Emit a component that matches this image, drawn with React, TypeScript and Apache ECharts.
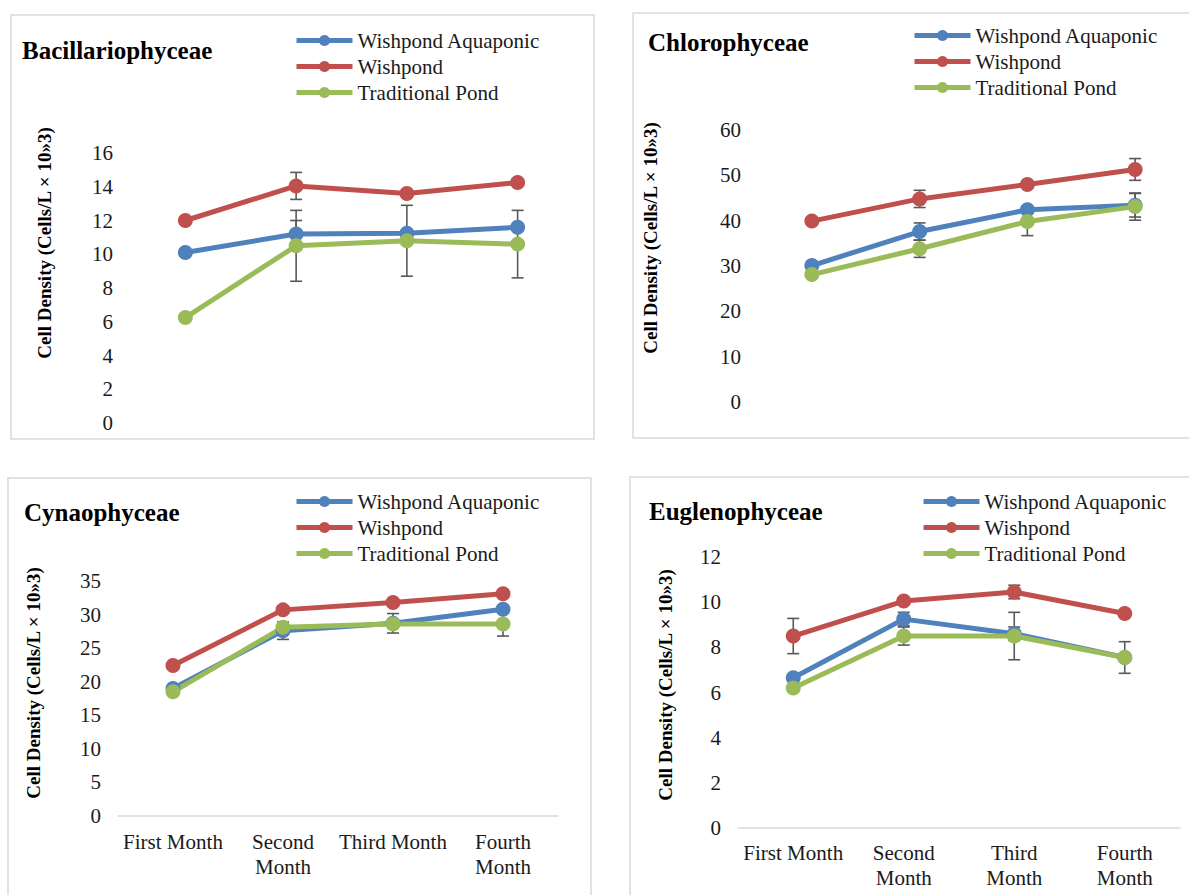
import React, { useEffect, useRef } from "react";
import * as echarts from "echarts";

// ---------- DATA ----------
const categories = ["First Month", "Second Month", "Third Month", "Fourth Month"];
const seriesNames = ["Wishpond Aquaponic", "Wishpond", "Traditional Pond"];
const axisLabelsCyna = ["First Month", "Second\nMonth", "Third Month", "Fourth\nMonth"];
const axisLabelsEugl = ["First Month", "Second\nMonth", "Third\nMonth", "Fourth\nMonth"];

// Bacillariophyceae
const bacAquaponic = [10.1, 11.2, 11.25, 11.6];
const bacWishpond = [12.0, 14.05, 13.6, 14.25];
const bacTraditional = [6.25, 10.5, 10.8, 10.6];
const bacAquaponicErr = [0, 0.8, 0, 0];
const bacWishpondErr = [0, 0.8, 0, 0];
const bacTraditionalErr = [0, 2.1, 2.1, 2.0];

// Chlorophyceae
const chlAquaponic = [30.1, 37.6, 42.4, 43.4];
const chlWishpond = [39.9, 44.8, 48.0, 51.3];
const chlTraditional = [28.1, 33.8, 39.8, 43.1];
const chlAquaponicErr = [0, 1.9, 0, 2.6];
const chlWishpondErr = [0, 1.9, 0, 2.4];
const chlTraditionalErr = [0, 1.9, 3.1, 3.0];

// Cynaophyceae
const cynAquaponic = [19.0, 27.6, 28.7, 30.8];
const cynWishpond = [22.4, 30.7, 31.8, 33.1];
const cynTraditional = [18.5, 28.1, 28.6, 28.6];
const cynAquaponicErr = [0, 1.3, 1.45, 0];
const cynWishpondErr = [0, 0.5, 0, 0];
const cynTraditionalErr = [0, 0.4, 0.6, 1.8];

// Euglenophyceae
const eugAquaponic = [6.65, 9.25, 8.6, 7.55];
const eugWishpond = [8.5, 10.05, 10.45, 9.5];
const eugTraditional = [6.2, 8.5, 8.5, 7.55];
const eugAquaponicErr = [0, 0.3, 0.3, 0];
const eugWishpondErr = [0.78, 0, 0.3, 0];
const eugTraditionalErr = [0, 0.4, 1.05, 0.7];

const yTitle = "Cell Density (Cells/L × 10»3)";

// ---------- STYLE / LAYOUT ----------
const COLORS = ["#4f81bd", "#c0504d", "#9bbb59"];
const FONT = "'Liberation Serif', 'Times New Roman', serif";
const TEXT = "#1a1a1a";

const panels = [
  {
    title: "Bacillariophyceae",
    values: [bacAquaponic, bacWishpond, bacTraditional],
    errs: [bacAquaponicErr, bacWishpondErr, bacTraditionalErr],
    max: 16, interval: 2,
    grid: { left: 130, top: 153, width: 443, height: 270 },
    showX: false, xLabels: categories,
    titlePos: { left: 22, top: 38 },
    legendPos: { left: 294, top: 30 },
    yTitlePos: { x: 44, y: 243 },
    border: { x: 11, y: 15, w: 583, h: 424 },
  },
  {
    title: "Chlorophyceae",
    values: [chlAquaponic, chlWishpond, chlTraditional],
    errs: [chlAquaponicErr, chlWishpondErr, chlTraditionalErr],
    max: 60, interval: 10,
    grid: { left: 758, top: 130, width: 443, height: 272 },
    showX: false, xLabels: categories,
    titlePos: { left: 648, top: 30 },
    legendPos: { left: 912, top: 25 },
    yTitlePos: { x: 650, y: 238 },
    border: { x: 633, y: 13, w: 600, h: 425 },
  },
  {
    title: "Cynaophyceae",
    values: [cynAquaponic, cynWishpond, cynTraditional],
    errs: [cynAquaponicErr, cynWishpondErr, cynTraditionalErr],
    max: 35, interval: 5,
    grid: { left: 118, top: 581, width: 440, height: 235 },
    showX: true, xLabels: axisLabelsCyna, labelMargin: 13,
    titlePos: { left: 24, top: 500 },
    legendPos: { left: 294, top: 491 },
    yTitlePos: { x: 33, y: 683 },
    border: { x: 8, y: 478, w: 583, h: 440 },
  },
  {
    title: "Euglenophyceae",
    values: [eugAquaponic, eugWishpond, eugTraditional],
    errs: [eugAquaponicErr, eugWishpondErr, eugTraditionalErr],
    max: 12, interval: 2,
    grid: { left: 738, top: 557, width: 442, height: 271 },
    showX: true, xLabels: axisLabelsEugl, labelMargin: 12,
    titlePos: { left: 649, top: 499 },
    legendPos: { left: 921, top: 491 },
    yTitlePos: { x: 665, y: 685 },
    border: { x: 630, y: 477, w: 600, h: 440 },
  },
];

function errorRender(params: any, api: any) {
  const x = api.value(0);
  const y = api.value(1);
  const e = api.value(2);
  if (!e) return null;
  const top = api.coord([x, y + e]);
  const bot = api.coord([x, y - e]);
  const cap = 6;
  const style = { stroke: "#595959", lineWidth: 1.6, fill: "none" };
  return {
    type: "group",
    children: [
      { type: "line", shape: { x1: top[0], y1: top[1], x2: bot[0], y2: bot[1] }, style },
      { type: "line", shape: { x1: top[0] - cap, y1: top[1], x2: top[0] + cap, y2: top[1] }, style },
      { type: "line", shape: { x1: bot[0] - cap, y1: bot[1], x2: bot[0] + cap, y2: bot[1] }, style },
    ],
  };
}

function buildOption() {
  const grid: any[] = [];
  const xAxis: any[] = [];
  const yAxis: any[] = [];
  const series: any[] = [];
  const title: any[] = [];
  const legend: any[] = [];
  const graphic: any[] = [];

  panels.forEach((p, pi) => {
    grid.push({ ...p.grid, containLabel: false });
    const labels = p.xLabels;
    xAxis.push({
      type: "category",
      gridIndex: pi,
      data: categories,
      boundaryGap: true,
      axisLine: { show: p.showX, lineStyle: { color: "#d9d9d9", width: 1.5 } },
      axisTick: { show: false },
      axisLabel: {
        show: p.showX,
        interval: 0,
        margin: (p as any).labelMargin || 12,
        fontFamily: FONT,
        fontSize: 21,
        lineHeight: 25,
        color: TEXT,
        formatter: (_v: string, idx: number) => labels[idx],
      },
      splitLine: { show: false },
    });
    yAxis.push({
      type: "value",
      gridIndex: pi,
      min: 0,
      max: p.max,
      interval: p.interval,
      axisLine: { show: false },
      axisTick: { show: false },
      splitLine: { show: false },
      axisLabel: { margin: 17, fontFamily: FONT, fontSize: 21, color: TEXT },
    });
    title.push({
      text: p.title,
      left: p.titlePos.left,
      top: p.titlePos.top,
      padding: 0,
      textStyle: { fontFamily: FONT, fontSize: 25, fontWeight: "bold", color: "#000" },
    });
    legend.push({
      orient: "vertical",
      left: p.legendPos.left,
      top: p.legendPos.top,
      padding: 0,
      itemGap: 5,
      itemWidth: 56,
      itemHeight: 14,
      data: seriesNames,
      lineStyle: { width: 5 },
      textStyle: { fontFamily: FONT, fontSize: 21, color: TEXT, lineHeight: 21 },
    });
    graphic.push({
      type: "rect",
      shape: { x: p.border.x, y: p.border.y, width: p.border.w, height: p.border.h },
      style: { fill: "none", stroke: "#d9d9d9", lineWidth: 1.5 },
      z: -1,
    });
    graphic.push({
      type: "text",
      x: p.yTitlePos.x,
      y: p.yTitlePos.y,
      rotation: Math.PI / 2,
      style: {
        text: yTitle,
        fontFamily: FONT,
        fontSize: 19,
        fontWeight: "bold",
        fill: "#000",
        align: "center",
        verticalAlign: "middle",
      },
    });

    seriesNames.forEach((name, si) => {
      series.push({
        type: "custom",
        name: name + " error",
        xAxisIndex: pi,
        yAxisIndex: pi,
        renderItem: errorRender,
        data: p.values[si].map((v, i) => [i, v, p.errs[si][i]]),
        z: 1,
        clip: false,
        silent: true,
      });
    });
    seriesNames.forEach((name, si) => {
      series.push({
        type: "line",
        name,
        xAxisIndex: pi,
        yAxisIndex: pi,
        data: p.values[si],
        symbol: "circle",
        symbolSize: 15,
        color: COLORS[si],
        lineStyle: { width: 5, color: COLORS[si] },
        itemStyle: { color: COLORS[si] },
        z: 2,
      });
    });
  });

  return {
    animation: false,
    backgroundColor: "#ffffff",
    title,
    legend,
    grid,
    xAxis,
    yAxis,
    series,
    graphic,
  };
}

export default function App() {
  const ref = useRef<HTMLDivElement>(null);
  useEffect(() => {
    if (!ref.current) return;
    const chart = echarts.init(ref.current, null, { renderer: "svg" });
    chart.setOption(buildOption() as any);
    return () => chart.dispose();
  }, []);
  return (
    <div
      ref={ref}
      style={{ position: "absolute", left: 0, top: 0, width: 1189, height: 895, background: "#fff" }}
    />
  );
}
